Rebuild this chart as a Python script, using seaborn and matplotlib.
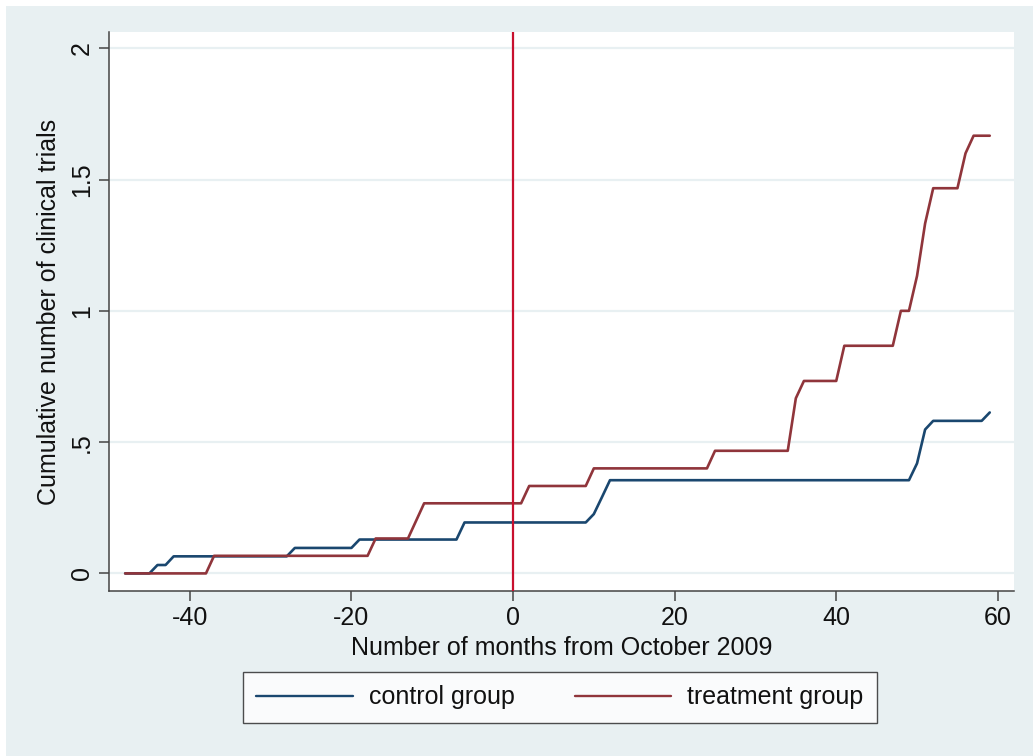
import pandas as pd
import matplotlib
matplotlib.use('Agg')
import matplotlib.pyplot as plt
import seaborn as sns
from matplotlib.patches import Rectangle

# Data (months -48 .. 59)
months = list(range(-48, 60))
control = [0, 0, 0, 0, .032, .032, .065, .065, .065, .065, .065, .065,
           .065, .065, .065, .065, .065, .065, .065, .065, .065, .097, .097, .097,
           .097, .097, .097, .097, .097, .129, .129, .129, .129, .129, .129, .129,
           .129, .129, .129, .129, .129, .129, .194, .194, .194, .194, .194, .194,
           .194, .194, .194, .194, .194, .194, .194, .194, .194, .194, .226, .290,
           .355, .355, .355, .355, .355, .355, .355, .355, .355, .355, .355, .355,
           .355, .355, .355, .355, .355, .355, .355, .355, .355, .355, .355, .355,
           .355, .355, .355, .355, .355, .355, .355, .355, .355, .355, .355, .355,
           .355, .355, .419, .548, .581, .581, .581, .581, .581, .581, .581, .613]
treatment = [0, 0, 0, 0, 0, 0, 0, 0, 0, 0, 0, .067,
             .067, .067, .067, .067, .067, .067, .067, .067, .067, .067, .067, .067,
             .067, .067, .067, .067, .067, .067, .067, .133, .133, .133, .133, .133,
             .200, .267, .267, .267, .267, .267, .267, .267, .267, .267, .267, .267,
             .267, .267, .333, .333, .333, .333, .333, .333, .333, .333, .400, .400,
             .400, .400, .400, .400, .400, .400, .400, .400, .400, .400, .400, .400,
             .400, .467, .467, .467, .467, .467, .467, .467, .467, .467, .467, .667,
             .733, .733, .733, .733, .733, .867, .867, .867, .867, .867, .867, .867,
             1.0, 1.0, 1.133, 1.333, 1.467, 1.467, 1.467, 1.467, 1.6, 1.667, 1.667, 1.667]
groups = ['control group', 'treatment group']
x_ticks = [-40, -20, 0, 20, 40, 60]
y_ticks = [0, 0.5, 1, 1.5, 2]
y_ticklabels = ['0', '.5', '1', '1.5', '2']

df = pd.DataFrame({
    'month': months * 2,
    'value': control + treatment,
    'group': [groups[0]] * len(months) + [groups[1]] * len(months),
})

sns.set_theme(style='white')
plt.rcParams['font.family'] = ['Liberation Sans', 'DejaVu Sans']
plt.rcParams['axes.unicode_minus'] = False

bg = '#e8f0f2'
fig = plt.figure(figsize=(10.33, 7.56), dpi=100, facecolor='white')
fig.add_artist(Rectangle((6 / 1033, 0), 1, 750 / 756, transform=fig.transFigure,
                         facecolor=bg, edgecolor='none', zorder=-5))
ax = fig.add_axes([109 / 1033, 165 / 756, 905 / 1033, 559 / 756])
ax.set_facecolor('white')

for y in y_ticks:
    ax.axhline(y, color=bg, lw=1.6, zorder=0)

sns.lineplot(data=df, x='month', y='value', hue='group',
             palette={'control group': '#1a476f', 'treatment group': '#90353b'},
             linewidth=1.9, ax=ax, legend=False, zorder=3)
ax.axvline(0, color='#c8102e', lw=1.6, zorder=4)

ax.set_xlim(-50, 62)
ax.set_ylim(-0.067, 2.062)
ax.set_xticks(x_ticks)
ax.set_yticks(y_ticks)
ax.set_yticklabels(y_ticklabels, rotation=90, va='center')
ax.tick_params(axis='both', direction='out', length=7, width=1.1, color='#444444',
               labelsize=18, pad=4, left=True, bottom=True, labelcolor='#111111')
for s in ['top', 'right']:
    ax.spines[s].set_visible(False)
for s in ['left', 'bottom']:
    ax.spines[s].set_color('#444444')
    ax.spines[s].set_linewidth(1.1)

ax.set_xlabel('Number of months from October 2009', fontsize=18, labelpad=4, color='#111111')
ax.set_ylabel('Cumulative number of clinical trials', fontsize=18, labelpad=6, color='#111111')

handles = [plt.Line2D([], [], color='#1a476f', lw=1.7),
           plt.Line2D([], [], color='#90353b', lw=1.7)]
leg = fig.legend(handles, groups, loc='center', bbox_to_anchor=(0.542, 0.0774),
                 ncol=2, fontsize=18, frameon=True, fancybox=False,
                 handlelength=3.85, columnspacing=2.4, handletextpad=0.65,
                 borderpad=0.55)
leg.get_frame().set_edgecolor('#222222')
leg.get_frame().set_linewidth(1.0)
leg.get_frame().set_facecolor('white')
for t in leg.get_texts():
    t.set_color('#111111')

fig.savefig('out.png', dpi=100, facecolor=fig.get_facecolor())
